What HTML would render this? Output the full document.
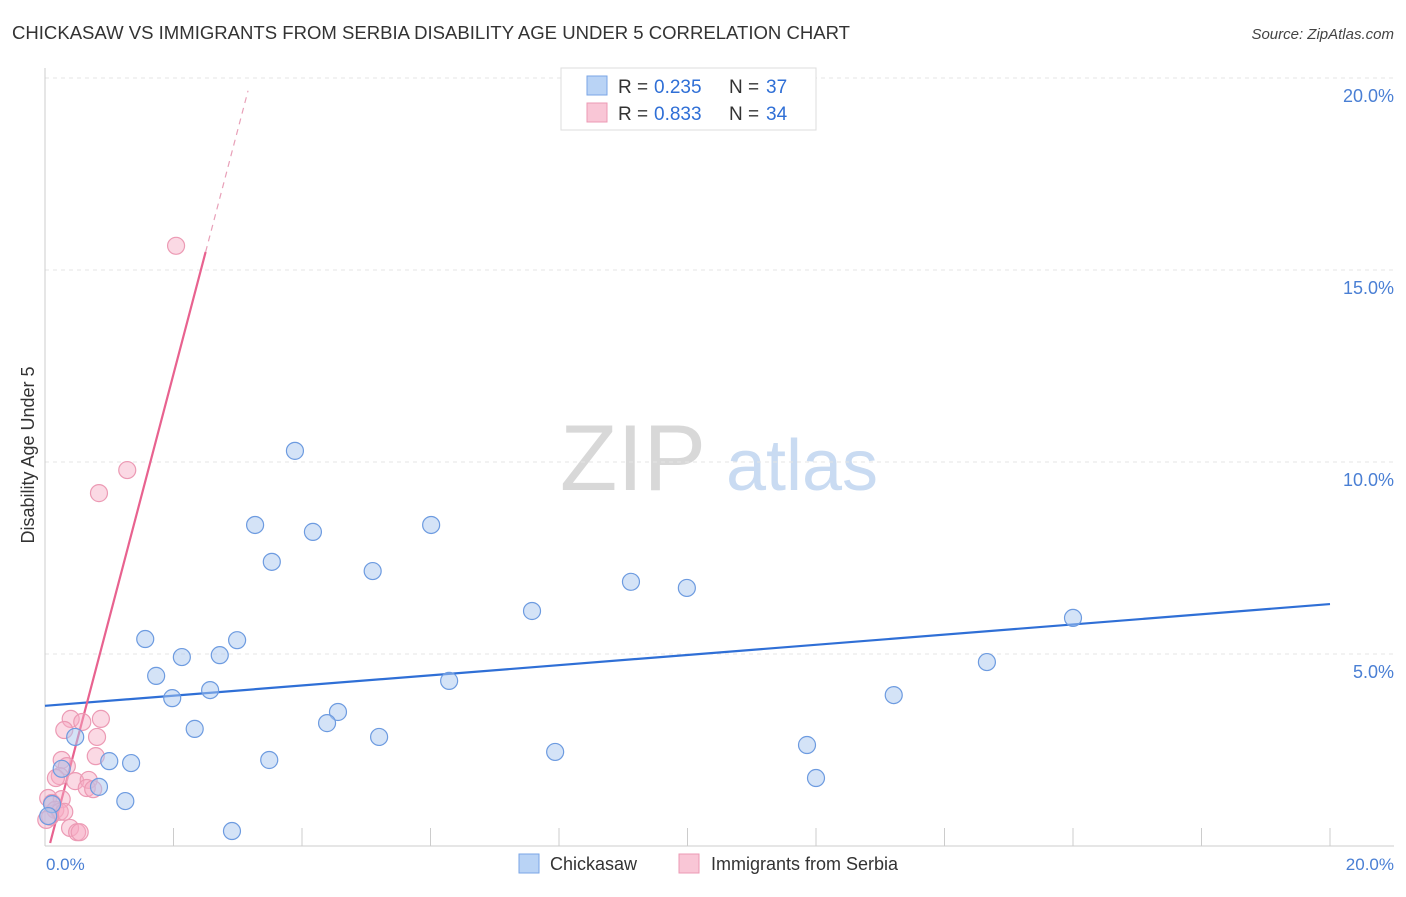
<!DOCTYPE html>
<html><head><meta charset="utf-8">
<style>
body{margin:0;background:#fff;font-family:"Liberation Sans",sans-serif;}
svg text{font-family:"Liberation Sans",sans-serif;}
</style></head>
<body>
<svg width="1406" height="892" viewBox="0 0 1406 892">
<text x="12" y="39" font-size="18" fill="#333" textLength="838" lengthAdjust="spacingAndGlyphs">CHICKASAW VS IMMIGRANTS FROM SERBIA DISABILITY AGE UNDER 5 CORRELATION CHART</text>
<text x="1394" y="39" font-size="15" fill="#444" text-anchor="end" font-style="italic">Source: ZipAtlas.com</text>
<g>
<text x="633" y="490" font-size="94" fill="#d8d8d8" text-anchor="middle" font-family="Liberation Serif,serif">ZIP</text>
<text x="802" y="490" font-size="72" fill="#c9dbf2" text-anchor="middle">atlas</text>
</g>
<g id="grid"></g>
<g id="axes"></g>
<text transform="translate(34,455) rotate(-90)" font-size="18" fill="#333" text-anchor="middle">Disability Age Under 5</text>
<text x="46" y="870" font-size="17" fill="#4a7fd4">0.0%</text>
<text x="1394" y="870" font-size="17" fill="#4a7fd4" text-anchor="end">20.0%</text>
<g id="trends"></g>
<g id="points"></g>
<g>
<rect x="561" y="68" width="255" height="62" fill="#fff" stroke="#ddd"/>
<rect x="587" y="76" width="20" height="19" fill="#b9d3f5" stroke="#7aa6e6"/>
<rect x="587" y="103" width="20" height="19" fill="#f9c6d6" stroke="#ec9ab4"/>
<text x="618" y="93" font-size="19" fill="#333">R =</text>
<text x="654" y="93" font-size="19" fill="#2f6fd6">0.235</text>
<text x="729" y="93" font-size="19" fill="#333">N =</text>
<text x="766" y="93" font-size="19" fill="#2f6fd6">37</text>
<text x="618" y="120" font-size="19" fill="#333">R =</text>
<text x="654" y="120" font-size="19" fill="#2f6fd6">0.833</text>
<text x="729" y="120" font-size="19" fill="#333">N =</text>
<text x="766" y="120" font-size="19" fill="#2f6fd6">34</text>
</g>
<g>
<rect x="519" y="854" width="20" height="19" fill="#b9d3f5" stroke="#7aa6e6"/>
<text x="550" y="870" font-size="18" fill="#333">Chickasaw</text>
<rect x="679" y="854" width="20" height="19" fill="#f9c6d6" stroke="#ec9ab4"/>
<text x="711" y="870" font-size="18" fill="#333">Immigrants from Serbia</text>
</g>
</svg>
<script>
const blueX=[3.89,3.27,4.17,6.01,3.53,5.10,9.12,9.99,7.58,16.0,1.56,2.99,2.13,2.72,1.73,14.66,2.57,1.98,6.29,13.21,4.56,4.39,2.33,5.20,0.47,11.86,7.94,1.00,1.34,3.49,0.26,12.0,0.84,1.25,0.11,0.05,2.91];
const blueY=[10.29,8.36,8.18,8.36,7.40,7.16,6.88,6.72,6.12,5.94,5.39,5.36,4.92,4.97,4.43,4.79,4.06,3.85,4.30,3.93,3.49,3.20,3.05,2.84,2.84,2.63,2.45,2.21,2.16,2.24,2.01,1.77,1.54,1.17,1.09,0.78,0.39];
const pinkX=[2.04,1.28,0.84,0.40,0.87,0.58,0.30,0.81,0.79,0.26,0.34,0.23,0.17,0.47,0.68,0.65,0.75,0.05,0.26,0.11,0.16,0.23,0.30,0.08,0.02,0.39,0.50,0.54];
const pinkY=[15.63,9.79,9.19,3.31,3.31,3.23,3.02,2.84,2.34,2.24,2.08,1.82,1.77,1.69,1.72,1.51,1.48,1.25,1.22,1.12,0.94,0.89,0.89,0.76,0.68,0.47,0.36,0.36];
const yTicks=[5,10,15,20];
const yTickLabels=["5.0%","10.0%","15.0%","20.0%"];
const blueTrend=[3.65,6.30];
const pinkTrend={intercept:-0.43,slope:6.36,solidEnd:2.5,dashEnd:3.16};
const NS="http://www.w3.org/2000/svg";
const sx=v=>45+v/20*1285;
const sy=v=>846-v/5*192;
function mk(tag,attrs,parent){const e=document.createElementNS(NS,tag);for(const k in attrs)e.setAttribute(k,attrs[k]);document.getElementById(parent).appendChild(e);return e;}
yTicks.forEach((t,i)=>{
 const l=mk('line',{x1:45,x2:1394,y1:sy(t),y2:sy(t),stroke:'#e4e4e4','stroke-dasharray':'4,4'},'grid');
 
 
 const tx=mk('text',{x:1394,y:sy(t)+24,'font-size':18,fill:'#4a7fd4','text-anchor':'end'},'grid');
 tx.textContent=yTickLabels[i];
 
 
});
const ax=mk('line',{x1:45,x2:45,y1:68,y2:846,stroke:'#ccc'},'axes');


const bx=mk('line',{x1:45,x2:1394,y1:846,y2:846,stroke:'#ccc'},'axes');


for(let v=2;v<=20;v+=2){
 const t=mk('line',{x1:sx(v),x2:sx(v),y1:828,y2:846,stroke:'#ccc'},'axes');
 
 
}
const bt=mk('line',{x1:sx(0),y1:sy(blueTrend[0]),x2:sx(20),y2:sy(blueTrend[1]),stroke:'#2f6fd6','stroke-width':2.2},'trends');


const px0=0.08,pf=x=>pinkTrend.intercept+pinkTrend.slope*x;
const ps=mk('line',{x1:sx(px0),y1:sy(pf(px0)),x2:sx(pinkTrend.solidEnd),y2:sy(pf(pinkTrend.solidEnd)),stroke:'#e8628f','stroke-width':2.2},'trends');


const pd=mk('line',{x1:sx(pinkTrend.solidEnd),y1:sy(pf(pinkTrend.solidEnd)),x2:sx(pinkTrend.dashEnd),y2:sy(pf(pinkTrend.dashEnd)),stroke:'#e8a0b8','stroke-width':1.2,'stroke-dasharray':'6,5'},'trends');


pinkX.forEach((x,i)=>{
 const c=mk('circle',{cx:sx(x),cy:sy(pinkY[i]),r:8.5,fill:'rgba(246,170,196,0.45)',stroke:'#ec9ab4','stroke-width':1.2},'points');
 
 
});
blueX.forEach((x,i)=>{
 const c=mk('circle',{cx:sx(x),cy:sy(blueY[i]),r:8.5,fill:'rgba(170,200,240,0.5)',stroke:'#6d9be0','stroke-width':1.2},'points');
 
 
});
</script>
</body></html>
